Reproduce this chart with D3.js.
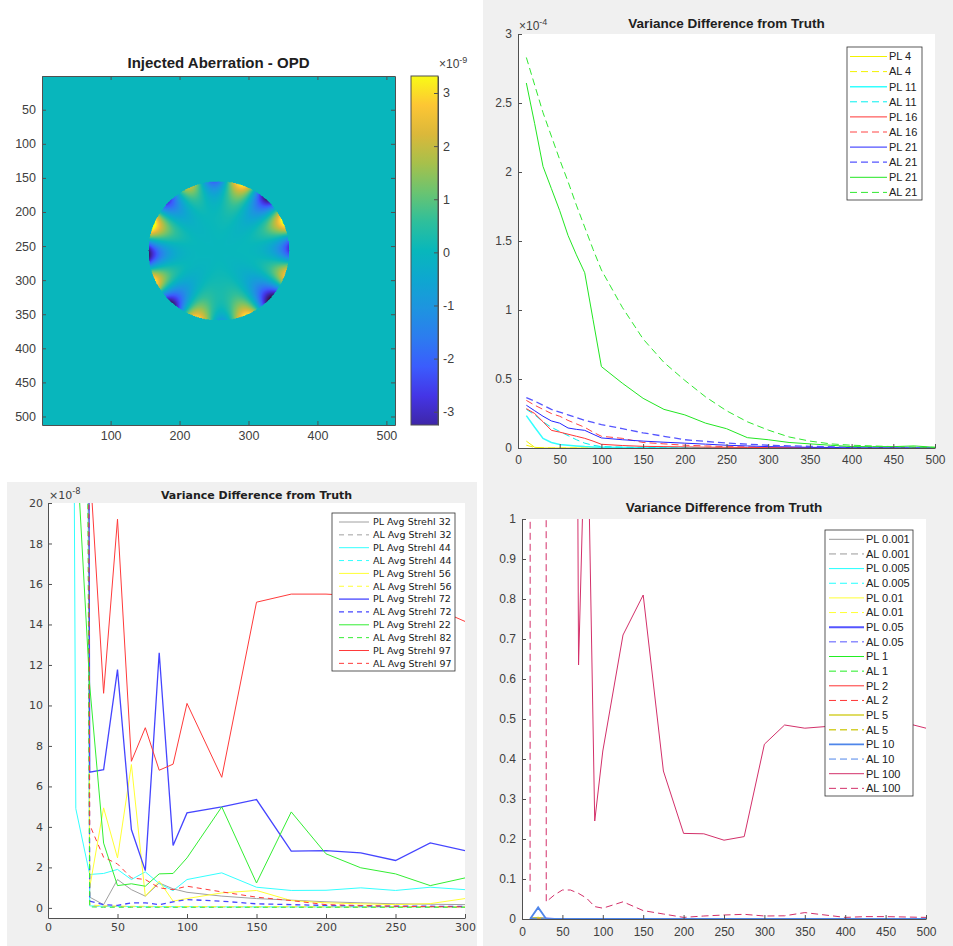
<!DOCTYPE html>
<html>
<head>
<meta charset="utf-8">
<script src="https://cdn.jsdelivr.net/npm/d3@7"></script>
<style>
  body { margin: 0; background: #fff; }
  svg { display: block; }
</style>
</head>
<body>
<div id="chart"></div>
<script>
// ---------- data ----------
// injected aberration (OPD, units of 1e-9): radial power, azimuthal order, coefficient
var opdPower = [5, 5, 2, 3, 4, 2, 3];
var opdOrder = [8, -8, 4, -3, 6, 2, 5];
var opdCoef = [-2.8, -1.0, 0.55, 0.5, -0.7, -0.3, 0.45];
var pupilRadius = 102;
var colorbarLimits = [-3.25, 3.32];
var parulaStops = ["#3e26a8", "#4435e6", "#3b5cfd", "#2c7cef", "#1e94e0", "#0ea7d0", "#08b7bb",
  "#2fbf9b", "#6ac471", "#a7c04b", "#dbb83a", "#fdc634", "#f9fb15"];
var imageXTicks = [100, 200, 300, 400, 500];
var imageYTicks = [50, 100, 150, 200, 250, 300, 350, 400, 450, 500];
var colorbarTicks = [-3, -2, -1, 0, 1, 2, 3];

// top right (units of 1e-4)
var xIter = [10, 20, 30, 40, 50, 60, 70, 80, 90, 100, 125, 150, 175, 200, 225, 250, 275, 300, 325, 350, 375, 400, 425, 450, 475, 500];
var pl4 = [0.05, 0.005, 0, 0, 0, 0, 0, 0, 0, 0, 0, 0, 0, 0, 0, 0, 0, 0, 0, 0, 0, 0, 0, 0, 0, 0];
var al4 = [0.02, 0.004, 0.001, 0, 0, 0, 0, 0, 0, 0, 0, 0, 0, 0, 0, 0, 0, 0, 0, 0, 0, 0, 0, 0, 0, 0];
var pl11 = [0.235, 0.15, 0.07, 0.04, 0.025, 0.02, 0.015, 0.01, 0.007, 0.005, 0.003, 0.002, 0.001, 0.001, 0, 0, 0, 0, 0, 0, 0, 0, 0, 0, 0, 0];
var al11 = [0.28, 0.24, 0.19, 0.15, 0.12, 0.09, 0.06, 0.035, 0.02, 0.01, 0.006, 0.004, 0.003, 0.002, 0.001, 0.001, 0.001, 0, 0, 0, 0, 0, 0, 0, 0, 0];
var pl16 = [0.285, 0.25, 0.19, 0.128, 0.115, 0.1, 0.085, 0.07, 0.05, 0.027, 0.018, 0.012, 0.01, 0.008, 0.006, 0.005, 0.004, 0.003, 0.003, 0.002, 0.002, 0.001, 0.001, 0.001, 0.001, 0.001];
var al16 = [0.345, 0.31, 0.28, 0.25, 0.23, 0.2, 0.175, 0.15, 0.115, 0.085, 0.07, 0.04, 0.03, 0.02, 0.015, 0.01, 0.008, 0.005, 0.004, 0.003, 0.003, 0.002, 0.002, 0.002, 0.001, 0.001];
var pl21b = [0.31, 0.27, 0.23, 0.196, 0.18, 0.145, 0.135, 0.128, 0.1, 0.073, 0.06, 0.05, 0.042, 0.035, 0.028, 0.02, 0.015, 0.01, 0.008, 0.005, 0.004, 0.003, 0.002, 0.002, 0.001, 0.001];
var al21b = [0.365, 0.34, 0.31, 0.28, 0.26, 0.24, 0.22, 0.2, 0.185, 0.17, 0.14, 0.11, 0.085, 0.06, 0.048, 0.036, 0.028, 0.02, 0.016, 0.012, 0.009, 0.006, 0.005, 0.004, 0.003, 0.003];
var pl21g = [2.645, 2.35, 2.04, 1.88, 1.72, 1.54, 1.4, 1.27, 0.93, 0.59, 0.47, 0.36, 0.28, 0.24, 0.18, 0.14, 0.075, 0.06, 0.04, 0.03, 0.02, 0.01, 0.01, 0.01, 0.015, 0.005];
var al21g = [2.83, 2.63, 2.43, 2.26, 2.09, 1.93, 1.76, 1.6, 1.44, 1.29, 1.02, 0.79, 0.62, 0.49, 0.37, 0.27, 0.19, 0.13, 0.08, 0.05, 0.03, 0.02, 0.015, 0.01, 0.007, 0.005];

// bottom left (units of 1e-8)
var xStrehl = [10, 20, 30, 40, 50, 60, 70, 80, 90, 100, 125, 150, 175, 200, 225, 250, 275, 300];
var plS32 = [300, 200, 0.53, 0.16, 1.4, 0.9, 0.58, 1.23, 0.94, 0.77, 0.58, 0.46, 0.38, 0.3, 0.25, 0.2, 0.18, 0.16];
var alS32 = [300, 200, 0.1, 0.08, 0.07, 0.06, 0.06, 0.05, 0.05, 0.05, 0.05, 0.05, 0.05, 0.05, 0.05, 0.05, 0.05, 0.05];
var plS44 = [150, 4.9, 1.65, 1.7, 1.9, 1.4, 1.78, 1.2, 0.85, 1.4, 1.73, 1.02, 0.86, 0.87, 0.99, 0.86, 1.02, 0.9];
var alS44 = [250, 180, 0.1, 0.08, 0.07, 0.07, 0.06, 0.06, 0.06, 0.06, 0.05, 0.05, 0.05, 0.05, 0.05, 0.05, 0.05, 0.05];
var plS56 = [300, 250, 1.0, 4.94, 2.47, 7.08, 0.58, 1.32, 0.33, 0.46, 0.74, 0.86, 0.36, 0.25, 0.2, 0.16, 0.21, 0.46];
var alS56 = [300, 200, 0.15, 0.1, 0.09, 0.08, 0.08, 0.07, 0.07, 0.07, 0.06, 0.06, 0.06, 0.05, 0.05, 0.05, 0.05, 0.05];
var plS72 = [400, 300, 6.7, 6.83, 11.77, 3.87, 1.84, 12.6, 3.08, 4.69, 4.99, 5.35, 2.8, 2.83, 2.72, 2.34, 3.21, 2.83];
var alS72 = [400, 300, 0.33, 0.16, 0.12, 0.25, 0.25, 0.16, 0.3, 0.41, 0.33, 0.2, 0.16, 0.12, 0.1, 0.08, 0.08, 0.07];
var plS22 = [60, 23.5, 11, 3.2, 1.1, 1.19, 1.07, 1.68, 1.7, 2.47, 4.99, 1.23, 4.74, 2.67, 1.98, 1.68, 1.1, 1.48];
var alS82 = [200, 150, 0.05, 0.03, 0.03, 0.03, 0.03, 0.03, 0.03, 0.03, 0.03, 0.03, 0.03, 0.03, 0.03, 0.03, 0.03, 0.03];
var plS97 = [300, 250, 22, 10.6, 19.2, 7.24, 8.9, 6.8, 7.1, 10.1, 6.45, 15.1, 15.5, 15.5, 15.4, 15.2, 14.9, 14.15];
var alS97 = [300, 250, 4.1, 2.5, 2.17, 1.48, 1.4, 0.99, 0.9, 1.07, 0.79, 0.53, 0.36, 0.16, 0.12, 0.08, 0.06, 0.05];

// bottom right
var plN0001 = [0.001, 0.002, 0, 0, 0, 0, 0, 0, 0, 0, 0, 0, 0, 0, 0, 0, 0, 0, 0, 0, 0, 0, 0, 0, 0, 0];
var alN0001 = [0.001, 0.001, 0, 0, 0, 0, 0, 0, 0, 0, 0, 0, 0, 0, 0, 0, 0, 0, 0, 0, 0, 0, 0, 0, 0, 0];
var plN0005 = [0.001, 0.002, 0, 0, 0, 0, 0, 0, 0, 0, 0, 0, 0, 0, 0, 0, 0, 0, 0, 0, 0, 0, 0, 0, 0, 0];
var alN0005 = [0.001, 0.001, 0, 0, 0, 0, 0, 0, 0, 0, 0, 0, 0, 0, 0, 0, 0, 0, 0, 0, 0, 0, 0, 0, 0, 0];
var plN001 = [0.001, 0.003, 0, 0, 0, 0, 0, 0, 0, 0, 0, 0, 0, 0, 0, 0, 0, 0, 0, 0, 0, 0, 0, 0, 0, 0];
var alN001 = [0.001, 0.001, 0, 0, 0, 0, 0, 0, 0, 0, 0, 0, 0, 0, 0, 0, 0, 0, 0, 0, 0, 0, 0, 0, 0, 0];
var plN005 = [0.001, 0.002, 0.001, 0, 0, 0, 0, 0, 0, 0, 0, 0, 0, 0, 0, 0, 0, 0, 0, 0, 0, 0, 0, 0, 0, 0];
var alN005 = [0.001, 0.001, 0, 0, 0, 0, 0, 0, 0, 0, 0, 0, 0, 0, 0, 0, 0, 0, 0, 0, 0, 0, 0, 0, 0, 0];
var plN1 = [0.001, 0.002, 0, 0, 0, 0, 0, 0, 0, 0, 0, 0, 0, 0, 0, 0, 0, 0, 0, 0, 0, 0, 0, 0, 0, 0];
var alN1 = [0.001, 0.001, 0, 0, 0, 0, 0, 0, 0, 0, 0, 0, 0, 0, 0, 0, 0, 0, 0, 0, 0, 0, 0, 0, 0, 0];
var plN2 = [0.001, 0.002, 0, 0, 0, 0, 0, 0, 0, 0, 0, 0, 0, 0, 0, 0, 0, 0, 0, 0, 0, 0, 0, 0, 0, 0];
var alN2 = [0.001, 0.001, 0, 0, 0, 0, 0, 0, 0, 0, 0, 0, 0, 0, 0, 0, 0, 0, 0, 0, 0, 0, 0, 0, 0, 0];
var plN5 = [0.001, 0.004, 0, 0, 0, 0, 0, 0, 0, 0, 0, 0, 0, 0, 0, 0, 0, 0, 0, 0, 0, 0, 0, 0, 0, 0];
var alN5 = [0.001, 0.002, 0, 0, 0, 0, 0, 0, 0, 0, 0, 0, 0, 0, 0, 0, 0, 0, 0, 0, 0, 0, 0, 0, 0, 0];
var plN10 = [0, 0.029, 0, 0, 0, 0, 0, 0, 0, 0, 0, 0, 0, 0, 0, 0, 0, 0, 0, 0, 0, 0, 0, 0, 0, 0];
var alN10 = [0.001, 0.002, 0, 0, 0, 0, 0, 0, 0, 0, 0, 0, 0, 0, 0, 0, 0, 0, 0, 0, 0, 0, 0, 0, 0, 0];
var plN100 = [8, 6, 7, 5, 4, 5, 0.635, 1.4, 0.245, 0.42, 0.71, 0.81, 0.37, 0.214, 0.213, 0.197, 0.206, 0.437, 0.485, 0.477, 0.481, 0.49, 0.492, 0.49, 0.49, 0.477];
var alN100 = [0.068, 100, 0.043, 0.06, 0.0725, 0.0725, 0.064, 0.052, 0.031, 0.027, 0.043, 0.021, 0.0125, 0.004, 0.0075, 0.01, 0.0117, 0.0075, 0.008, 0.016, 0.01, 0.004, 0.006, 0.006, 0.005, 0.004];

var ticks50 = [0, 50, 100, 150, 200, 250, 300, 350, 400, 450, 500];

// ---------- drawing ----------
var ARIAL = "'Liberation Sans', Arial, Helvetica, sans-serif";
var DEJAVU = "'DejaVu Sans', sans-serif";
var AXIS_COLOR = "#505050";
var TEXT_COLOR = "#404040";
var plainNumber = function (d) { return String(d); };

var svg = d3.select("#chart").append("svg")
  .attr("width", 953)
  .attr("height", 946);

// figure backgrounds (grey frames)
svg.append("rect").attr("x", 483).attr("y", 0).attr("width", 470).attr("height", 946).attr("fill", "#f0f0f0");
svg.append("rect").attr("x", 7).attr("y", 482).attr("width", 470).attr("height", 464).attr("fill", "#f0f0f0");

var defs = svg.append("defs");

function styleAxis(g, font, size) {
  g.select(".domain").attr("stroke", AXIS_COLOR);
  g.selectAll(".tick line").attr("stroke", AXIS_COLOR);
  g.selectAll(".tick text")
    .attr("fill", TEXT_COLOR)
    .attr("font-family", font)
    .attr("font-size", size);
}

function expLabel(x, y, power, font, size) {
  var t = svg.append("text")
    .attr("x", x).attr("y", y)
    .attr("font-family", font)
    .attr("font-size", size)
    .attr("fill", TEXT_COLOR);
  t.append("tspan").text("\u00d710");
  t.append("tspan").attr("dy", -5).attr("font-size", size * 0.75).text(power);
}

// ---- line chart helper ----
function lineChart(o) {
  var x = d3.scaleLinear().domain(o.xDomain).range([o.left, o.right]);
  var y = d3.scaleLinear().domain(o.yDomain).range([o.bottom, o.top]);

  svg.append("rect")
    .attr("x", o.left).attr("y", o.top)
    .attr("width", o.right - o.left).attr("height", o.bottom - o.top)
    .attr("fill", "#fff");

  defs.append("clipPath").attr("id", "clip-" + o.id)
    .append("rect")
    .attr("x", o.left).attr("y", o.top)
    .attr("width", o.right - o.left).attr("height", o.bottom - o.top);

  var line = d3.line()
    .x(function (d, i) { return x(o.xs[i]); })
    .y(function (d) { return y(d); });

  var plot = svg.append("g").attr("clip-path", "url(#clip-" + o.id + ")");
  o.series.forEach(function (s) {
    plot.append("path")
      .attr("d", line(s.values))
      .attr("fill", "none")
      .attr("stroke", s.color)
      .attr("stroke-width", s.width || 1)
      .attr("stroke-dasharray", s.dash ? o.dash : null);
  });

  var gx = svg.append("g")
    .attr("transform", "translate(0," + o.bottom + ")")
    .call(d3.axisBottom(x).tickValues(o.xTicks).tickFormat(plainNumber).tickSizeInner(-4).tickSizeOuter(0).tickPadding(o.xPad));
  styleAxis(gx, o.font, o.tickSize);

  var gy = svg.append("g")
    .attr("transform", "translate(" + o.left + ",0)")
    .call(d3.axisLeft(y).tickValues(o.yTicks).tickFormat(plainNumber).tickSizeInner(-4).tickSizeOuter(0).tickPadding(o.yPad));
  styleAxis(gy, o.font, o.tickSize);

  svg.append("text")
    .attr("x", (o.left + o.right) / 2)
    .attr("y", o.titleY)
    .attr("text-anchor", "middle")
    .attr("font-family", o.font)
    .attr("font-weight", "bold")
    .attr("font-size", o.titleSize)
    .attr("fill", "#202020")
    .text(o.title);

  if (o.power) expLabel(o.left + 1, o.top - 4, o.power, o.font, o.tickSize);

  // legend
  var lg = o.legend;
  svg.append("rect")
    .attr("x", lg.x0).attr("y", lg.y0)
    .attr("width", lg.x1 - lg.x0).attr("height", lg.y1 - lg.y0)
    .attr("fill", "#fff")
    .attr("stroke", "#303030")
    .attr("stroke-width", 0.8);
  o.series.forEach(function (s, i) {
    var yy = lg.first + i * lg.step;
    svg.append("line")
      .attr("x1", lg.s0).attr("x2", lg.s1)
      .attr("y1", yy).attr("y2", yy)
      .attr("stroke", s.color)
      .attr("stroke-width", s.width || 1)
      .attr("stroke-dasharray", s.dash ? o.dash : null);
    svg.append("text")
      .attr("x", lg.tx).attr("y", yy)
      .attr("dy", "0.35em")
      .attr("font-family", o.font)
      .attr("font-size", lg.size)
      .attr("fill", "#202020")
      .text(s.name);
  });
}

// ---- heatmap ----
(function () {
  var box = { left: 42, right: 395, top: 76, bottom: 425 };
  var x = d3.scaleLinear().domain([0.5, 512.5]).range([box.left, box.right]);
  var y = d3.scaleLinear().domain([0.5, 512.5]).range([box.top, box.bottom]);
  var color = d3.scaleSequential(d3.piecewise(d3.interpolateRgb, parulaStops)).domain(colorbarLimits);

  var canvas = document.createElement("canvas");
  canvas.width = 512;
  canvas.height = 512;
  var ctx = canvas.getContext("2d");
  var img = ctx.createImageData(512, 512);
  for (var row = 0; row < 512; row++) {
    for (var col = 0; col < 512; col++) {
      var dx = (col + 0.5 - 256.5) / pupilRadius;
      var dy = -(row + 0.5 - 256.5) / pupilRadius;
      var r = Math.sqrt(dx * dx + dy * dy);
      var v = 0;
      if (r <= 1) {
        var th = Math.atan2(dy, dx);
        for (var k = 0; k < opdCoef.length; k++) {
          var m = opdOrder[k];
          var ang = m >= 0 ? Math.cos(m * th) : Math.sin(-m * th);
          v += opdCoef[k] * Math.pow(r, opdPower[k]) * ang;
        }
      }
      var c = d3.rgb(color(v));
      var p = (row * 512 + col) * 4;
      img.data[p] = c.r;
      img.data[p + 1] = c.g;
      img.data[p + 2] = c.b;
      img.data[p + 3] = 255;
    }
  }
  ctx.putImageData(img, 0, 0);

  svg.append("image")
    .attr("href", canvas.toDataURL())
    .attr("x", box.left).attr("y", box.top)
    .attr("width", box.right - box.left).attr("height", box.bottom - box.top)
    .attr("preserveAspectRatio", "none");

  var ax = [
    d3.axisBottom(x).tickValues(imageXTicks).tickFormat(plainNumber).tickSizeInner(-4).tickSizeOuter(0).tickPadding(6),
    d3.axisTop(x).tickValues(imageXTicks).tickSizeInner(-4).tickSizeOuter(0).tickFormat(""),
    d3.axisLeft(y).tickValues(imageYTicks).tickFormat(plainNumber).tickSizeInner(-4).tickSizeOuter(0).tickPadding(6),
    d3.axisRight(y).tickValues(imageYTicks).tickSizeInner(-4).tickSizeOuter(0).tickFormat("")
  ];
  var pos = ["translate(0," + box.bottom + ")", "translate(0," + box.top + ")",
    "translate(" + box.left + ",0)", "translate(" + box.right + ",0)"];
  ax.forEach(function (a, i) {
    var g = svg.append("g").attr("transform", pos[i]).call(a);
    styleAxis(g, ARIAL, 12.5);
  });

  svg.append("text")
    .attr("x", (box.left + box.right) / 2)
    .attr("y", 68)
    .attr("text-anchor", "middle")
    .attr("font-family", ARIAL)
    .attr("font-weight", "bold")
    .attr("font-size", 15)
    .attr("fill", "#202020")
    .text("Injected Aberration - OPD");

  // colorbar
  var cb = { left: 411, right: 438 };
  var yc = d3.scaleLinear().domain(colorbarLimits).range([box.bottom, box.top]);
  var grad = defs.append("linearGradient").attr("id", "parula")
    .attr("x1", 0).attr("y1", 1).attr("x2", 0).attr("y2", 0);
  parulaStops.forEach(function (c, i) {
    grad.append("stop").attr("offset", i / (parulaStops.length - 1)).attr("stop-color", c);
  });
  svg.append("rect")
    .attr("x", cb.left).attr("y", box.top)
    .attr("width", cb.right - cb.left).attr("height", box.bottom - box.top)
    .attr("fill", "url(#parula)");
  var gc = svg.append("g")
    .attr("transform", "translate(" + cb.right + ",0)")
    .call(d3.axisRight(yc).tickValues(colorbarTicks).tickFormat(plainNumber).tickSizeInner(-4).tickSizeOuter(0).tickPadding(5));
  styleAxis(gc, ARIAL, 12.5);
  svg.append("rect")
    .attr("x", cb.left).attr("y", box.top)
    .attr("width", cb.right - cb.left).attr("height", box.bottom - box.top)
    .attr("fill", "none").attr("stroke", AXIS_COLOR);
  expLabel(439, 68, "-9", ARIAL, 12);
})();

// ---- top right ----
lineChart({
  id: "tr", font: ARIAL, tickSize: 12, titleSize: 13.5, titleY: 28, power: "-4",
  left: 518, right: 935, top: 34, bottom: 448,
  xDomain: [0, 500], yDomain: [0, 3], xs: xIter,
  xTicks: ticks50, yTicks: [0, 0.5, 1, 1.5, 2, 2.5, 3],
  xPad: 7, yPad: 6, dash: "7,4",
  title: "Variance Difference from Truth",
  legend: { x0: 847, x1: 922, y0: 47, y1: 200, first: 56.5, step: 15.1, s0: 850, s1: 887, tx: 889, size: 11 },
  series: [
    { name: "PL 4", values: pl4, color: "#f2f200" },
    { name: "AL 4", values: al4, color: "#f2f200", dash: true },
    { name: "PL 11", values: pl11, color: "#33ffff", width: 1.5 },
    { name: "AL 11", values: al11, color: "#00f0f0", dash: true },
    { name: "PL 16", values: pl16, color: "#ff3535" },
    { name: "AL 16", values: al16, color: "#ff4545", dash: true },
    { name: "PL 21", values: pl21b, color: "#2525ff" },
    { name: "AL 21", values: al21b, color: "#5555ff", dash: true, width: 1.3 },
    { name: "PL 21", values: pl21g, color: "#22e622" },
    { name: "AL 21", values: al21g, color: "#30e830", dash: true }
  ]
});

// ---- bottom left ----
lineChart({
  id: "bl", font: DEJAVU, tickSize: 11, titleSize: 11, titleY: 499, power: "-8",
  left: 48, right: 465, top: 503, bottom: 918,
  xDomain: [0, 300], yDomain: [-0.5, 20], xs: xStrehl,
  xTicks: [0, 50, 100, 150, 200, 250, 300], yTicks: [0, 2, 4, 6, 8, 10, 12, 14, 16, 18, 20],
  xPad: 5, yPad: 5, dash: "5,4",
  title: "Variance Difference from Truth",
  legend: { x0: 332, x1: 455, y0: 513, y1: 671, first: 522, step: 12.85, s0: 339, s1: 369, tx: 373, size: 9.5 },
  series: [
    { name: "PL Avg Strehl 32", values: plS32, color: "#a0a0a0" },
    { name: "AL Avg Strehl 32", values: alS32, color: "#a0a0a0", dash: true },
    { name: "PL Avg Strehl 44", values: plS44, color: "#33ffff" },
    { name: "AL Avg Strehl 44", values: alS44, color: "#33ffff", dash: true },
    { name: "PL Avg Strehl 56", values: plS56, color: "#ffff33" },
    { name: "AL Avg Strehl 56", values: alS56, color: "#ffff33", dash: true },
    { name: "PL Avg Strehl 72", values: plS72, color: "#4545ff", width: 1.3 },
    { name: "AL Avg Strehl 72", values: alS72, color: "#4545ff", dash: true, width: 1.3 },
    { name: "PL Avg Strehl 22", values: plS22, color: "#33ee33" },
    { name: "AL Avg Strehl 82", values: alS82, color: "#33ee33", dash: true },
    { name: "PL Avg Strehl 97", values: plS97, color: "#ff3a3a" },
    { name: "AL Avg Strehl 97", values: alS97, color: "#ff3a3a", dash: true }
  ]
});

// ---- bottom right ----
lineChart({
  id: "br", font: ARIAL, tickSize: 12, titleSize: 13.5, titleY: 512, power: null,
  left: 522, right: 926, top: 519, bottom: 919,
  xDomain: [0, 500], yDomain: [0, 1], xs: xIter,
  xTicks: ticks50, yTicks: [0, 0.1, 0.2, 0.3, 0.4, 0.5, 0.6, 0.7, 0.8, 0.9, 1],
  xPad: 8, yPad: 6, dash: "7,4",
  title: "Variance Difference from Truth",
  legend: { x0: 825, x1: 913, y0: 530, y1: 796, first: 539.3, step: 14.65, s0: 829, s1: 864, tx: 866, size: 11 },
  series: [
    { name: "PL 0.001", values: plN0001, color: "#999999" },
    { name: "AL 0.001", values: alN0001, color: "#999999", dash: true },
    { name: "PL 0.005", values: plN0005, color: "#22ffff" },
    { name: "AL 0.005", values: alN0005, color: "#22ffff", dash: true },
    { name: "PL 0.01", values: plN001, color: "#ffff33" },
    { name: "AL 0.01", values: alN001, color: "#ffff33", dash: true },
    { name: "PL 0.05", values: plN005, color: "#5555ff", width: 2 },
    { name: "AL 0.05", values: alN005, color: "#5555ff", dash: true },
    { name: "PL 1", values: plN1, color: "#22ee22" },
    { name: "AL 1", values: alN1, color: "#22ee22", dash: true },
    { name: "PL 2", values: plN2, color: "#ff3333" },
    { name: "AL 2", values: alN2, color: "#ff3333", dash: true },
    { name: "PL 5", values: plN5, color: "#d4d030", width: 1.5 },
    { name: "AL 5", values: alN5, color: "#d4d030", dash: true, width: 1.5 },
    { name: "PL 10", values: plN10, color: "#4f86ea", width: 1.8 },
    { name: "AL 10", values: alN10, color: "#4f86ea", dash: true },
    { name: "PL 100", values: plN100, color: "#d3306a" },
    { name: "AL 100", values: alN100, color: "#d3306a", dash: true }
  ]
});
</script>
</body>
</html>
